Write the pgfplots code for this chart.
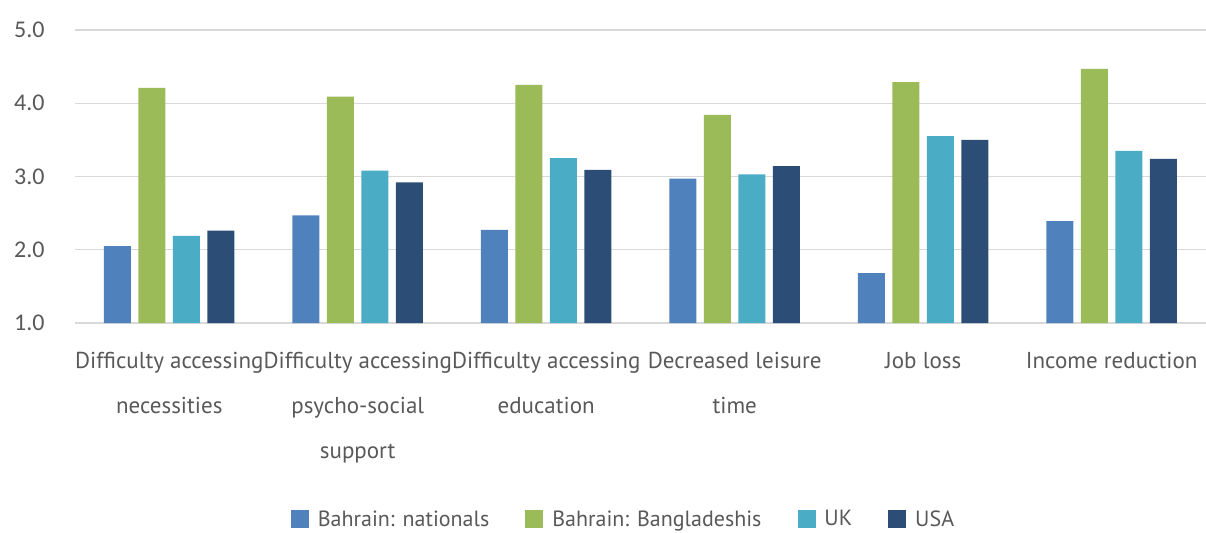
\documentclass[border=0pt]{standalone}
\usepackage{pgfplots}
\pgfplotsset{compat=1.18}
\usepackage{fontspec}
\setmainfont{PT Sans}
\newfontfamily\tickfont{Carlito}
\definecolor{cNat}{HTML}{4F81BD}
\definecolor{cBan}{HTML}{9BBB59}
\definecolor{cUK}{HTML}{4BACC6}
\definecolor{cUSA}{HTML}{2C4D75}
\definecolor{txt}{HTML}{595959}
\definecolor{gridc}{HTML}{D9D9D9}
\begin{document}
\begin{tikzpicture}
\begin{axis}[
  name=ax,
  at={(0,0)}, anchor=south west,
  scale only axis,
  width=1131bp, height=293bp,
  ybar=7.5bp, bar width=27bp,
  xmin=-0.5, xmax=5.5,
  ymin=1, ymax=5,
  ytick={1,2,3,4,5},
  yticklabel style={/pgf/number format/fixed, /pgf/number format/fixed zerofill, /pgf/number format/precision=1, font=\tickfont\fontsize{24bp}{28bp}\selectfont, text=txt, xshift=-27bp},
  /pgf/number format/assume math mode=true,
  ymajorgrids=true, xmajorgrids=false,
  y grid style={draw=gridc, line width=1.3bp},
  axis line style={draw=none},
  major tick length=0pt,
  xtick={0,1,2,3,4,5},
  xticklabels={{Difficulty accessing\\necessities},{Difficulty accessing\\psycho-social\\support},{Difficulty accessing\\education},{Decreased leisure\\time},{Job loss},{Income reduction}},
  xticklabel style={align=center, font=\fontsize{23bp}{45bp}\selectfont, text=txt, yshift=-26bp},
  legend style={at={(0.485,-0.669)}, anchor=center, draw=none, font=\fontsize{22bp}{26bp}\selectfont, text=txt, legend columns=4,
    /tikz/every odd column/.append style={column sep=7bp},
    /tikz/every even column/.append style={column sep=34bp}},
  legend image code/.code={\fill[#1] (0bp,-9bp) rectangle (18bp,9bp);},
  clip=false,
]
\addplot[fill=cNat, draw=none] coordinates {(0,2.05) (1,2.47) (2,2.27) (3,2.97) (4,1.68) (5,2.39)};
\addplot[fill=cBan, draw=none] coordinates {(0,4.21) (1,4.09) (2,4.25) (3,3.84) (4,4.29) (5,4.47)};
\addplot[fill=cUK, draw=none] coordinates {(0,2.19) (1,3.08) (2,3.25) (3,3.03) (4,3.55) (5,3.35)};
\addplot[fill=cUSA, draw=none] coordinates {(0,2.26) (1,2.92) (2,3.09) (3,3.14) (4,3.50) (5,3.24)};
\legend{Bahrain: nationals, Bahrain: Bangladeshis, UK, USA}
\end{axis}
\pgfresetboundingbox
\path[use as bounding box] ([xshift=-75bp,yshift=-210bp]ax.south west) rectangle ([xshift=1131bp,yshift=323bp]ax.south west);
\end{tikzpicture}
\end{document}
